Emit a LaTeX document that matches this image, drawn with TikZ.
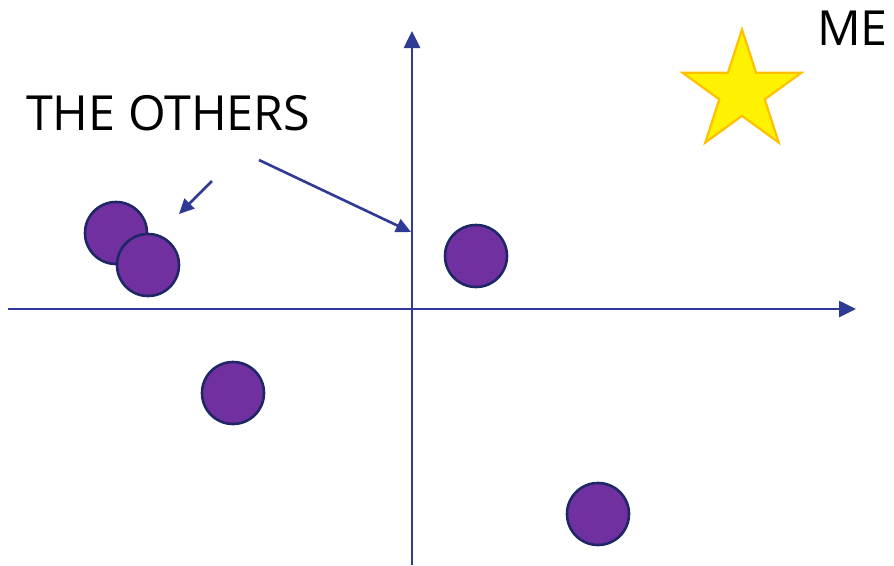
\documentclass[tikz,border=0pt]{standalone}
\usepackage{fontspec}
\setmainfont{Open Sans}
\usetikzlibrary{arrows.meta,shapes.geometric}
\definecolor{axisblue}{HTML}{2E3A94}
\definecolor{dotfill}{HTML}{7030A0}
\definecolor{dotline}{HTML}{1F2766}
\definecolor{starline}{HTML}{FFC000}
\tikzset{
  axis/.style={draw=axisblue,line width=2.6pt,-{Triangle[length=17pt,width=16pt]}},
  pointer/.style={draw=axisblue,line width=2.6pt,-{Triangle[length=15pt,width=14pt]}},
  dot/.style={circle,draw=dotline,fill=dotfill,line width=2.6pt,minimum size=62pt,inner sep=0pt},
  lbl/.style={font=\fontsize{48.4pt}{52pt}\selectfont,inner sep=0pt,anchor=west}
}
\begin{document}
\begin{tikzpicture}[x=1pt,y=-1pt]
\useasboundingbox (0,0) rectangle (894,565);
\coordinate (xs) at (8,309);
\coordinate (xe) at (856,309);
\coordinate (ys) at (412,565);
\coordinate (ye) at (412,31);
\draw[axis] (xs) -- (xe);
\draw[axis] (ys) -- (ye);
\node[dot] (c1) at (116,233) {};
\node[dot] (c2) at (148,265) {};
\node[dot] (c3) at (476,256) {};
\node[dot] (c4) at (233,393) {};
\node[dot] (c5) at (598,514) {};
\node[star,star points=5,star point ratio=2.618,minimum size=125pt,inner sep=0pt,fill=yellow,draw=starline,line width=2.2pt] (me) at (742,92) {};
\node[lbl] (others) at (26,113) {THE OTHERS};
\node[lbl] (melbl) at (817,28) {ME};
\coordinate (p1s) at (212,181);
\coordinate (p1e) at (179,214);
\coordinate (p2s) at (259,160);
\coordinate (p2e) at (411,232);
\draw[pointer] (p1s) -- (p1e);
\draw[pointer] (p2s) -- (p2e);
\end{tikzpicture}
\end{document}
